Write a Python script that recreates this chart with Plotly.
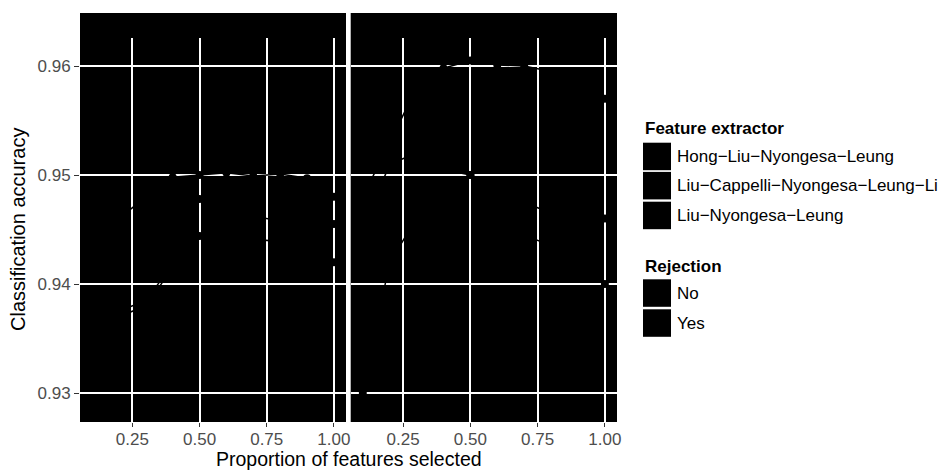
import plotly.graph_objects as go

# ---------------- data ----------------
proportion = [0.1, 0.2, 0.3, 0.4, 0.5, 0.6, 0.7, 0.8, 0.9, 1.0]
extractors = ["Hong−Liu−Nyongesa−Leung", "Liu−Cappelli−Nyongesa−Leung−Li", "Liu−Nyongesa−Leung"]
rejection_levels = ["No", "Yes"]
x_ticks = [0.25, 0.50, 0.75, 1.00]
x_tick_labels = ["0.25", "0.50", "0.75", "1.00"]
y_ticks = [0.93, 0.94, 0.95, 0.96]
y_tick_labels = ["0.93", "0.94", "0.95", "0.96"]

panel1_hong = [0.943, 0.946, 0.948, 0.9498, 0.950, 0.9502, 0.9499, 0.9501, 0.9497, 0.948]
panel1_cappelli = [0.934, 0.937, 0.938, 0.9415, 0.9478, 0.947, 0.9462, 0.9458, 0.9456, 0.9455]
panel1_nyongesa = [0.9355, 0.9375, 0.9385, 0.9418, 0.9444, 0.9443, 0.9441, 0.9439, 0.9432, 0.942]

panel2_hong = [0.948, 0.953, 0.958, 0.9598, 0.9605, 0.9601, 0.9600, 0.9595, 0.9578, 0.957]
panel2_cappelli = [0.945, 0.951, 0.952, 0.9505, 0.950, 0.949, 0.9475, 0.9465, 0.946, 0.946]
panel2_nyongesa = [0.930, 0.942, 0.946, 0.948, 0.950, 0.947, 0.9445, 0.9435, 0.9415, 0.940]

panel1 = [panel1_hong, panel1_cappelli, panel1_nyongesa]
panel2 = [panel2_hong, panel2_cappelli, panel2_nyongesa]

# ---------------- layout geometry ----------------
W, H = 941, 471
L, R, T, B = 80, 941 - 617, 38, 471 - 422
PW, PH = W - L - R, H - T - B
FONT = "Liberation Sans, Arial, Helvetica, sans-serif"


def px(xp):
    return (xp - L) / PW


def py(yp):
    return (H - B - yp) / PH


fig = go.Figure()

for axis_suffix, panel in (("", panel1), ("2", panel2)):
    for name, acc in zip(extractors, panel):
        fig.add_trace(go.Scatter(
            x=proportion, y=acc, name=name, mode="lines+markers",
            xaxis="x" + axis_suffix, yaxis="y" + axis_suffix,
            line=dict(color="black", width=1.5),
            marker=dict(color="black", size=8),
            showlegend=False,
        ))

xcommon = dict(
    range=[0.055, 1.045], tickvals=x_ticks, ticktext=x_tick_labels,
    showgrid=True, gridcolor="white", gridwidth=1.6, zeroline=False,
    ticks="outside", ticklen=4, tickcolor="#333333", tickwidth=1,
    tickfont=dict(family=FONT, size=17, color="#4d4d4d"), showline=False,
    ticklabelstandoff=-2,
)
ycommon = dict(
    range=[0.92734, 0.96257], tickvals=y_ticks, ticktext=y_tick_labels,
    showgrid=True, gridcolor="white", gridwidth=1.6, zeroline=False, showline=False,
)

fig.update_layout(
    width=W, height=H,
    margin=dict(l=L, r=R, t=T, b=B, autoexpand=False),
    paper_bgcolor="white", plot_bgcolor="black",
    showlegend=False,
    xaxis=dict(domain=[0, 266 / PW], anchor="y", **xcommon),
    xaxis2=dict(domain=[(350.7 - L) / PW, 1], anchor="y2", **xcommon),
    yaxis=dict(anchor="x", ticks="outside", ticklen=5, tickcolor="#333333", tickwidth=1,
               tickfont=dict(family=FONT, size=17, color="#4d4d4d"), **ycommon),
    yaxis2=dict(anchor="x2", matches="y", showticklabels=False, ticks="", **ycommon),
)

shapes = []
# facet strips (black on black)
for x0, x1 in ((80, 346), (350.7, 617)):
    shapes.append(dict(type="rect", xref="paper", yref="paper",
                       x0=px(x0), x1=px(x1), y0=1, y1=py(13),
                       fillcolor="black", line=dict(width=0), layer="below"))

annotations = []
# axis titles
annotations.append(dict(text="Proportion of features selected", xref="paper", yref="paper",
                        x=0.5, y=py(459), xanchor="center", yanchor="middle", showarrow=False,
                        font=dict(family=FONT, size=19.5, color="black")))
annotations.append(dict(text="Classification accuracy", xref="paper", yref="paper",
                        x=px(18), y=py(230), xanchor="center", yanchor="middle", showarrow=False,
                        textangle=-90, font=dict(family=FONT, size=20, color="black")))

# manual legends
key_x0, key_x1, text_x = 643, 671, 675


def legend_block(title, title_y, labels, key_tops):
    annotations.append(dict(text="<b>" + title + "</b>", xref="paper", yref="paper",
                            x=px(key_x0), y=py(title_y), xanchor="left", yanchor="middle",
                            showarrow=False, font=dict(family=FONT, size=17, color="black")))
    for lab, top in zip(labels, key_tops):
        shapes.append(dict(type="rect", xref="paper", yref="paper",
                           x0=px(key_x0), x1=px(key_x1), y0=py(top + 27.5), y1=py(top),
                           fillcolor="black", line=dict(width=0)))
        annotations.append(dict(text=lab, xref="paper", yref="paper",
                                x=px(text_x), y=py(top + 14), xanchor="left", yanchor="middle",
                                showarrow=False, font=dict(family=FONT, size=17, color="black")))


legend_block("Feature extractor", 128, extractors, [142.7, 171.9, 201.7])
legend_block("Rejection", 266, rejection_levels, [279.3, 309.3])

fig.update_layout(shapes=shapes, annotations=annotations)
fig.write_html("out.html", config={"displayModeBar": False},
               post_script="document.body.style.margin='0px';document.body.style.overflow='hidden';")
